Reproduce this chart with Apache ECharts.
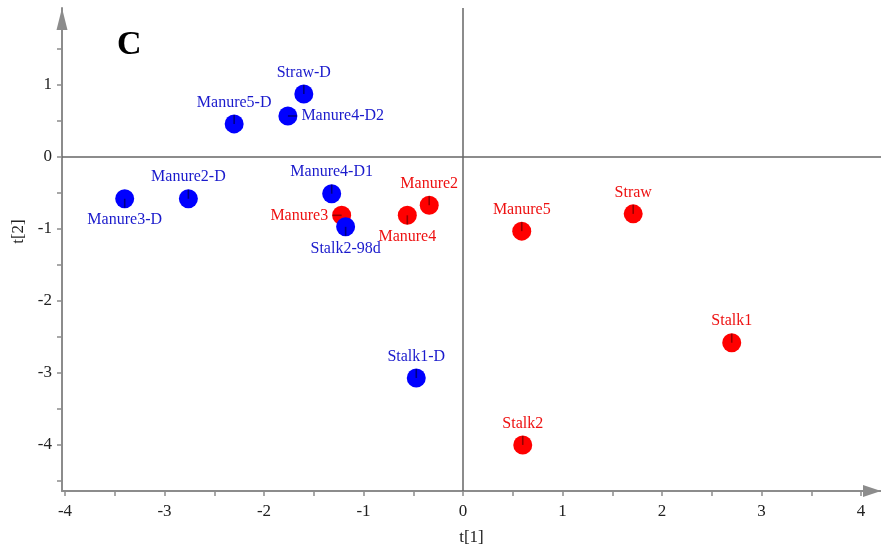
<!DOCTYPE html>
<html>
<head>
<meta charset="utf-8">
<script src="https://cdn.jsdelivr.net/npm/echarts@6/dist/echarts.min.js"></script>
<style>html,body{margin:0;padding:0;background:#fff}#c{width:881px;height:553px}</style>
</head>
<body>
<div id="c"></div>
<script>
// ---- data ----
const blueNames = ['Straw-D','Manure4-D2','Manure5-D','Manure3-D','Manure2-D','Manure4-D1','Stalk2-98d','Stalk1-D'];
const blueX     = [-1.60, -1.76, -2.30, -3.40, -2.76, -1.32, -1.18, -0.47];
const blueY     = [ 0.875, 0.57,  0.46, -0.58, -0.58, -0.51, -0.97, -3.07];
const bluePos   = ['top','right','top','bottom','top','top','bottom','top'];

const redNames = ['Manure3','Manure4','Manure2','Manure5','Straw','Stalk1','Stalk2'];
const redX     = [-1.22, -0.56, -0.34, 0.59, 1.71, 2.70, 0.60];
const redY     = [-0.81, -0.81, -0.67, -1.03, -0.79, -2.58, -4.00];
const redPos   = ['left','bottom','top','top','top','top','top'];

const xTickLabels = [-4,-3,-2,-1,0,1,2,3,4];
const yTickLabels = [1,0,-1,-2,-3,-4];
const xTicks = [-4,-3.5,-3,-2.5,-2,-1.5,-1,-0.5,0,0.5,1,1.5,2,2.5,3,3.5,4];
const yTicks = [1.5,1,0.5,0,-0.5,-1,-1.5,-2,-2.5,-3,-3.5,-4,-4.5];

const FONT = "'Liberation Serif','Times New Roman',serif";
const SYM = 19;

function pts(xs, ys, names, pos) {
  return xs.map((x, i) => ({ value: [x, ys[i]], name: names[i], label: { position: pos[i] } }));
}
function stubs(xs, ys, pos) {
  const L = 9;
  return xs.map((x, i) => {
    const p = pos[i];
    let size, off;
    if (p === 'top') { size = [1.6, L]; off = [0, -L / 2]; }
    else if (p === 'bottom') { size = [1.6, L]; off = [0, L / 2]; }
    else if (p === 'left') { size = [L, 1.6]; off = [-L / 2, 0]; }
    else { size = [L, 1.6]; off = [L / 2, 0]; }
    return { value: [x, ys[i]], symbolSize: size, symbolOffset: off };
  });
}

const axisCol = '#8c8c8c';
const chart = echarts.init(document.getElementById('c'));
chart.setOption({
  animation: false,
  backgroundColor: '#fff',
  grid: { left: 62, right: 0, top: 8, bottom: 62, containLabel: false },
  graphic: [{
    type: 'text', left: 117, top: 28,
    style: { text: 'C', font: "bold 34px 'Liberation Serif',serif", fill: '#000' }
  }],
  xAxis: {
    type: 'value', min: -4.03, max: 4.2,
    name: 't[1]', nameLocation: 'middle', nameGap: 38,
    nameTextStyle: { fontFamily: FONT, fontSize: 17, color: '#222' },
    axisLine: { onZero: false, lineStyle: { color: axisCol, width: 2 }, symbol: ['none', 'triangle'], symbolSize: [12, 18], symbolOffset: [0, -9] },
    axisTick: { show: true, length: 5, customValues: xTicks, lineStyle: { color: axisCol, width: 1.5 } },
    axisLabel: { customValues: xTickLabels, margin: 12, fontFamily: FONT, fontSize: 17, color: '#222' },
    splitLine: { show: false }
  },
  yAxis: {
    type: 'value', min: -4.64, max: 2.07,
    name: 't[2]', nameLocation: 'middle', nameGap: 27,
    nameTextStyle: { fontFamily: FONT, fontSize: 17, color: '#222', padding: [0, 0, 0, 36] },
    axisLine: { onZero: false, lineStyle: { color: axisCol, width: 2 }, symbol: ['none', 'triangle'], symbolSize: [11, 22], symbolOffset: [0, -11] },
    axisTick: { show: true, length: 5, customValues: yTicks, lineStyle: { color: axisCol, width: 1.5 } },
    axisLabel: { customValues: yTickLabels, margin: 10, fontFamily: FONT, fontSize: 17, color: '#222' },
    splitLine: { show: false }
  },
  series: [
    {
      type: 'scatter', symbol: 'none', data: [],
      markLine: {
        silent: true, symbol: ['none', 'none'], label: { show: false },
        lineStyle: { color: '#666', width: 1.5, type: 'solid' },
        data: [{ xAxis: 0 }, { yAxis: 0 }]
      }
    },
    {
      type: 'scatter', symbolSize: SYM, itemStyle: { color: '#ff0000', opacity: 1 },
      data: pts(redX, redY, redNames, redPos),
      label: { show: true, formatter: '{b}', distance: 4, color: '#ee1111', fontFamily: FONT, fontSize: 16 }
    },
    {
      type: 'scatter', symbol: 'rect', itemStyle: { color: 'rgba(90,0,0,0.8)' },
      data: stubs(redX, redY, redPos), silent: true
    },
    {
      type: 'scatter', symbolSize: SYM, itemStyle: { color: '#0000ff', opacity: 1 },
      data: pts(blueX, blueY, blueNames, bluePos),
      label: { show: true, formatter: '{b}', distance: 4, color: '#1a1acc', fontFamily: FONT, fontSize: 16 }
    },
    {
      type: 'scatter', symbol: 'rect', itemStyle: { color: 'rgba(0,0,60,0.8)' },
      data: stubs(blueX, blueY, bluePos), silent: true
    }
  ]
});
</script>
</body>
</html>
